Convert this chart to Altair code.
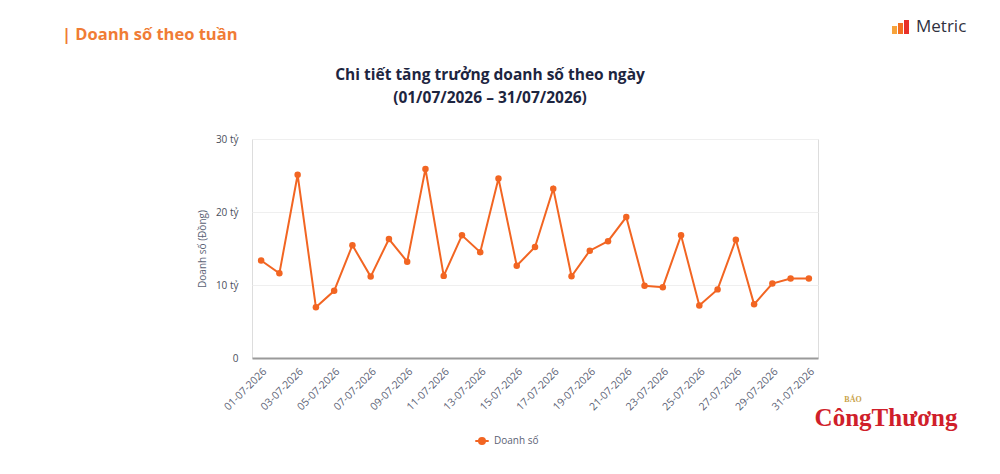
import altair as alt
import pandas as pd

dates = [f"{d:02d}-07-2026" for d in range(1, 32)]
sales = [13.35, 11.6, 25.1, 6.95, 9.2, 15.45, 11.15, 16.3, 13.2, 25.9,
         11.25, 16.8, 14.5, 24.6, 12.65, 15.2, 23.2, 11.2, 14.7, 16.0,
         19.3, 9.9, 9.7, 16.8, 7.2, 9.4, 16.2, 7.35, 10.2, 10.9, 10.9]
series_name = "Doanh số"
y_ticks = [0, 10, 20, 30]

df = pd.DataFrame({"date": dates, "sales": sales, "series": series_name})

ORANGE = "#f26522"
FONT = "Open Sans"

x_enc = alt.X("date:O", sort=dates,
              scale=alt.Scale(type="point", padding=0.5),
              axis=alt.Axis(title=None, values=dates[::2], labelAngle=-45,
                            labelColor="#5b6275", labelFontSize=10.5, labelFont=FONT,
                            ticks=False, domainColor="#9a9a9a", domainWidth=2,
                            labelPadding=8, grid=False))
y_enc = alt.Y("sales:Q", scale=alt.Scale(domain=[0, 30], nice=False),
              axis=alt.Axis(title="Doanh số (Đồng)", values=y_ticks,
                            labelExpr="datum.value == 0 ? '0' : datum.value + ' tỷ'",
                            labelColor="#4a4f5c", labelFontSize=10, labelFont=FONT,
                            titleColor="#5b6275", titleFontSize=10, titleFont=FONT,
                            titleFontWeight="normal", titlePadding=8,
                            ticks=False, domain=False, labelPadding=14,
                            gridColor="#efefef", gridWidth=1))
color_enc = alt.Color("series:N",
                      scale=alt.Scale(domain=[series_name], range=[ORANGE]),
                      legend=alt.Legend(title=None, orient="none", legendX=222, legendY=294,
                                        symbolType="M-1,0L1,0M-0.45,0A0.45,0.45 0 1,0 0.45,0A0.45,0.45 0 1,0 -0.45,0",
                                        symbolSize=180, symbolStrokeWidth=2, symbolFillColor=ORANGE,
                                        labelColor="#5b6275", labelFontSize=10, labelFont=FONT))

line = alt.Chart(df).mark_line(strokeWidth=2).encode(x=x_enc, y=y_enc, color=color_enc)
pts = alt.Chart(df).mark_circle(size=42, opacity=1).encode(
    x=x_enc, y=y_enc,
    color=alt.Color("series:N", scale=alt.Scale(domain=[series_name], range=[ORANGE]), legend=None))

one = alt.Data(values=[{"a": 1}])

def txt(text, x, y, size, color, weight="normal", font=FONT, align="center"):
    return alt.Chart(one).mark_text(text=text, fontSize=size, color=color, fontWeight=weight,
                                    font=font, align=align, baseline="middle").encode(
        x=alt.value(x), y=alt.value(y))

header = txt("| Doanh số theo tuần", -190, -104, 16.5, "#f07c35", "bold", align="left")
title1 = txt("Chi tiết tăng trưởng doanh số theo ngày", 238, -64, 15.5, "#1d2540", "bold")
title2 = txt("(01/07/2026 – 31/07/2026)", 238, -41, 15.5, "#1d2540", "bold")
metric = txt("Metric", 664, -112, 17, "#2f3140", align="left")

logo_h = [8, 11, 14]
logo_colors = ["#f7a33b", "#f36f21", "#e8312a"]
icon_layers = [
    alt.Chart(one).mark_rect(color=c).encode(
        x=alt.value(640 + i * 6), x2=alt.value(645 + i * 6),
        y=alt.value(-105 - h), y2=alt.value(-105))
    for i, (h, c) in enumerate(zip(logo_h, logo_colors))
]

bao = txt("BÁO", 601, 261, 8, "#c9a24a", "bold", font="Liberation Serif")
ct = txt("CôngThương", 634, 279, 25, "#d01f2b", "bold", font="Liberation Serif")

chart = alt.layer(line, pts, header, title1, title2, metric, *icon_layers, bao, ct).properties(
    width=566, height=219,
    autosize=alt.AutoSizeParams(type="none"),
    padding={"left": 244, "top": 131, "right": 170, "bottom": 100},
).configure_view(stroke=None).configure(background="white")

chart.save("out.html", embed_options={"renderer": "svg", "actions": False})
